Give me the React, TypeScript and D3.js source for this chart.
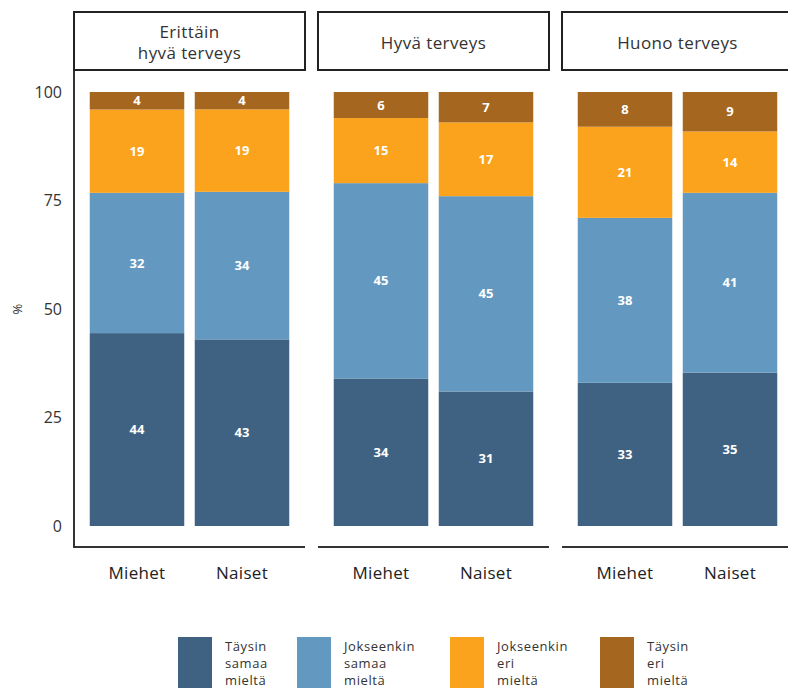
import React, { useRef, useEffect } from "react";
import * as d3 from "d3";

// facet titles (lines)
const panels = [["Erittäin", "hyvä terveys"], ["Hyvä terveys"], ["Huono terveys"]];
const genders = ["Miehet", "Naiset"];
const seriesKeys = ["taysinSamaa", "jokseenkinSamaa", "jokseenkinEri", "taysinEri"];
const seriesLabels = [
  ["Täysin", "samaa", "mieltä"],
  ["Jokseenkin", "samaa", "mieltä"],
  ["Jokseenkin", "eri", "mieltä"],
  ["Täysin", "eri", "mieltä"],
];
const seriesColors = ["#3f6282", "#6399c0", "#fba31d", "#a5661f"];

// values per panel, [Miehet, Naiset]
const taysinSamaa = [[44, 43], [34, 31], [33, 35]];
const jokseenkinSamaa = [[32, 34], [45, 45], [38, 41]];
const jokseenkinEri = [[19, 19], [15, 17], [21, 14]];
const taysinEri = [[4, 4], [6, 7], [8, 9]];

const yTicks = [0, 25, 50, 75, 100];

const FONT = "'Open Sans', sans-serif";

const App: React.FC = () => {
  const ref = useRef<SVGSVGElement | null>(null);

  useEffect(() => {
    document.body.style.margin = "0";
    if (!ref.current) return;
    const svg = d3.select(ref.current);
    svg.selectAll("*").remove();

    const width = 788;
    const height = 689;
    svg.attr("width", width).attr("height", height);

    const left = 74;
    const panelW = 231;
    const panelGap = 13;
    const stripTop = 12;
    const stripBottom = 70;
    const plotBottom = 547;

    const y = d3.scaleLinear().domain([0, 100]).range([526, 92]);

    const x = d3
      .scaleBand<string>()
      .domain(genders)
      .range([0, panelW])
      .paddingInner(0.1)
      .paddingOuter(0.15);

    // y axis labels
    svg
      .append("g")
      .selectAll("text")
      .data(yTicks)
      .join("text")
      .attr("x", 62)
      .attr("y", (d) => y(d))
      .attr("dy", "0.35em")
      .attr("text-anchor", "end")
      .attr("font-family", FONT)
      .attr("font-size", 16)
      .attr("fill", "#333")
      .text((d) => d);

    svg
      .append("text")
      .attr("transform", `translate(22,${y(50)}) rotate(-90)`)
      .attr("text-anchor", "middle")
      .attr("font-family", FONT)
      .attr("font-size", 13)
      .attr("fill", "#333")
      .text("%");

    // left axis line
    svg
      .append("line")
      .attr("x1", left)
      .attr("x2", left)
      .attr("y1", stripBottom)
      .attr("y2", plotBottom)
      .attr("stroke", "#333")
      .attr("stroke-width", 2);

    const stack = d3
      .stack<number[]>()
      .keys(seriesKeys.map((_, i) => String(i)))
      .value((d, k) => d[+k])
      .offset(d3.stackOffsetExpand);

    const all = [taysinSamaa, jokseenkinSamaa, jokseenkinEri, taysinEri];

    panels.forEach((title, p) => {
      const g = svg
        .append("g")
        .attr("transform", `translate(${left + p * (panelW + panelGap)},0)`);

      // strip
      g.append("rect")
        .attr("x", 0)
        .attr("y", stripTop)
        .attr("width", panelW)
        .attr("height", stripBottom - stripTop)
        .attr("fill", "white")
        .attr("stroke", "#222")
        .attr("stroke-width", 2);

      const lineH = 21;
      const mid = (stripTop + stripBottom) / 2 + 2;
      g.append("g")
        .selectAll("text")
        .data(title)
        .join("text")
        .attr("x", panelW / 2)
        .attr("y", (_, i) => mid + (i - (title.length - 1) / 2) * lineH)
        .attr("dy", "0.35em")
        .attr("text-anchor", "middle")
        .attr("font-family", FONT)
        .attr("font-size", 17)
        .attr("letter-spacing", 0.4)
        .attr("fill", "#333")
        .text((d) => d);

      // bottom axis line
      g.append("line")
        .attr("x1", p === 0 ? -1 : 0)
        .attr("x2", panelW)
        .attr("y1", plotBottom)
        .attr("y2", plotBottom)
        .attr("stroke", "#333")
        .attr("stroke-width", 2);

      const rows = genders.map((_, gi) => all.map((s) => s[p][gi]));
      const stacked = stack(rows);

      stacked.forEach((layer, si) => {
        layer.forEach((seg, gi) => {
          const x0 = x(genders[gi])!;
          const yTop = y(seg[1] * 100);
          const yBot = y(seg[0] * 100);
          g.append("rect")
            .attr("x", x0)
            .attr("y", yTop)
            .attr("width", x.bandwidth())
            .attr("height", yBot - yTop)
            .attr("fill", seriesColors[si]);
          g.append("text")
            .attr("x", x0 + x.bandwidth() / 2)
            .attr("y", (yTop + yBot) / 2)
            .attr("dy", "0.35em")
            .attr("text-anchor", "middle")
            .attr("font-family", FONT)
            .attr("font-weight", 700)
            .attr("font-size", 13)
            .attr("fill", "white")
            .text(rows[gi][si]);
        });
      });

      // x labels
      g.append("g")
        .selectAll("text")
        .data(genders)
        .join("text")
        .attr("x", (d) => x(d)! + x.bandwidth() / 2)
        .attr("y", 573)
        .attr("dy", "0.35em")
        .attr("text-anchor", "middle")
        .attr("font-family", FONT)
        .attr("font-size", 17)
        .attr("letter-spacing", 0.3)
        .attr("fill", "#222")
        .text((d) => d);
    });

    // legend
    const legendX = [178, 297, 450, 600];
    const legend = svg
      .append("g")
      .selectAll("g")
      .data(seriesLabels)
      .join("g")
      .attr("transform", (_, i) => `translate(${legendX[i]},637)`);

    legend
      .append("rect")
      .attr("width", 34)
      .attr("height", 51)
      .attr("fill", (_, i) => seriesColors[i]);

    legend
      .append("g")
      .selectAll("text")
      .data((d) => d)
      .join("text")
      .attr("x", 47)
      .attr("y", (_, i) => 9 + i * 17)
      .attr("dy", "0.35em")
      .attr("font-family", FONT)
      .attr("font-size", 13)
      .attr("letter-spacing", 0.6)
      .attr("fill", "#333")
      .text((d) => d);
  }, []);

  return <svg ref={ref} style={{ display: "block" }}></svg>;
};

export default App;
